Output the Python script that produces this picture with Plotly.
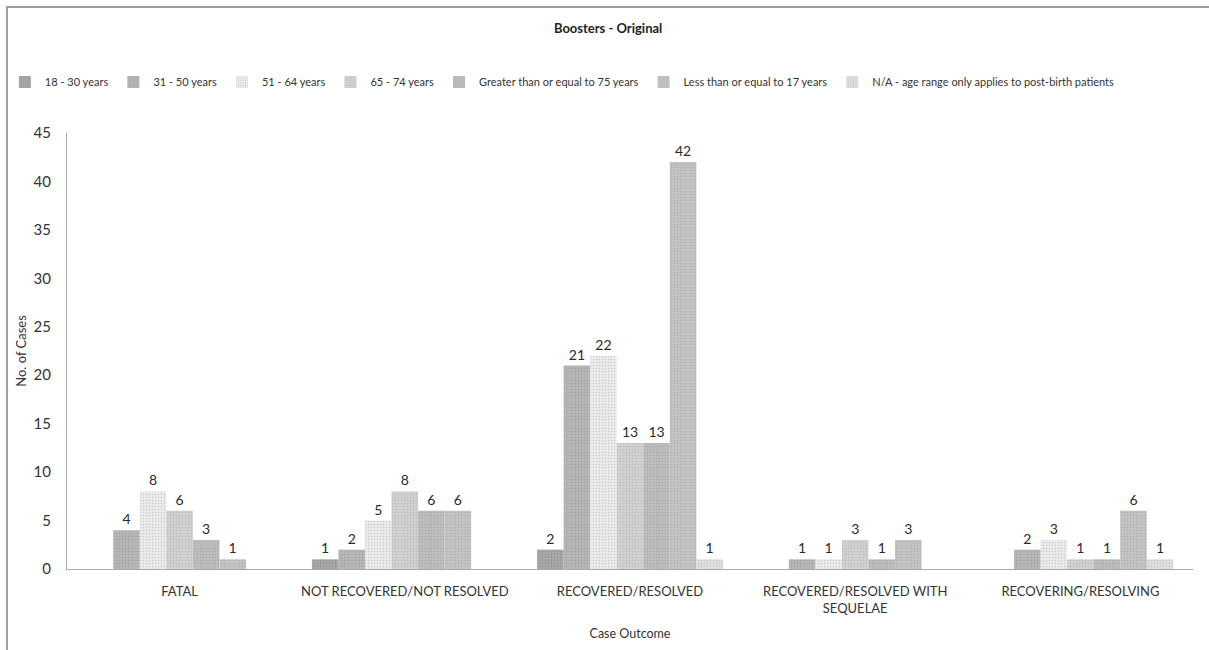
import plotly.graph_objects as go

# Case outcomes on the category axis
outcomes = [
    "FATAL",
    "NOT RECOVERED/NOT RESOLVED",
    "RECOVERED/RESOLVED",
    "RECOVERED/RESOLVED WITH<br>SEQUELAE",
    "RECOVERING/RESOLVING",
]

# Age-group series (None = no cases reported)
age_18_30 = [None, 1, 2, None, None]
age_31_50 = [4, 2, 21, 1, 2]
age_51_64 = [8, 5, 22, 1, 3]
age_65_74 = [6, 8, 13, 3, 1]
age_ge_75 = [3, 6, 13, 1, 1]
age_le_17 = [1, 6, 42, 3, 6]
age_na = [None, None, 1, None, 1]

series_names = [
    "18 - 30 years",
    "31 - 50 years",
    "51 - 64 years",
    "65 - 74 years",
    "Greater than or equal to 75 years",
    "Less than or equal to 17 years",
    "N/A - age range only applies to post-birth patients",
]
series_values = [age_18_30, age_31_50, age_51_64, age_65_74, age_ge_75, age_le_17, age_na]

# Grey dotted fills: (background, dot colour, dot solidity)
fills = [
    ("#acacac", "#868686", 0.45),
    ("#b8b8b8", "#959595", 0.4),
    ("#eeeeee", "#b4b4b4", 0.35),
    ("#d4d4d4", "#acacac", 0.4),
    ("#c0c0c0", "#9c9c9c", 0.4),
    ("#c6c6c6", "#a2a2a2", 0.4),
    ("#e0e0e0", "#b8b8b8", 0.35),
]

FONT = "Lato, 'Open Sans', sans-serif"

fig = go.Figure()
for name, vals, (bg, fg, sol) in zip(series_names, series_values, fills):
    fig.add_trace(
        go.Bar(
            name=name,
            x=outcomes,
            y=vals,
            text=[("" if v is None else str(v)) for v in vals],
            textposition="outside",
            cliponaxis=False,
            textfont=dict(family=FONT, size=14, color="#2a2a2a"),
            marker=dict(
                color=bg,
                line=dict(width=0),
                pattern=dict(shape=".", fgcolor=fg, bgcolor=bg, size=3, solidity=sol),
            ),
        )
    )

fig.update_layout(
    width=1209,
    height=650,
    barmode="group",
    bargap=0.175,
    bargroupgap=0,
    paper_bgcolor="white",
    plot_bgcolor="white",
    margin=dict(l=67, r=16, t=133, b=81, autoexpand=False),
    font=dict(family=FONT, size=12, color="#333333"),
    title=dict(
        text="<b>Boosters - Original</b>",
        x=0.503,
        xanchor="center",
        y=0.957,
        yanchor="middle",
        font=dict(family=FONT, size=13, color="#222222"),
    ),
    legend=dict(
        orientation="h",
        xref="container",
        yref="container",
        x=0.004,
        y=0.874,
        yanchor="middle",
        xanchor="left",
        bgcolor="rgba(0,0,0,0)",
        font=dict(family=FONT, size=11, color="#333333"),
        itemwidth=30,
        traceorder="normal",
    ),
    showlegend=True,
)

fig.update_xaxes(
    showline=True,
    linecolor="#a8a8a8",
    linewidth=1,
    ticks="",
    showgrid=False,
    tickangle=0,
    ticklabelstandoff=10,
    tickfont=dict(family=FONT, size=13, color="#333333"),
    title=dict(text="Case Outcome", font=dict(family=FONT, size=12.5, color="#333333"), standoff=14),
)
fig.update_yaxes(
    range=[0, 45],
    dtick=5,
    showline=True,
    linecolor="#a8a8a8",
    linewidth=1,
    ticks="",
    showgrid=False,
    zeroline=False,
    tickfont=dict(family=FONT, size=15, color="#333333"),
    ticklabelstandoff=12,
    title=dict(text="No. of Cases", font=dict(family=FONT, size=13, color="#333333"), standoff=4),
)

# Outer chart frame
fig.add_shape(
    type="rect",
    xref="paper",
    yref="paper",
    x0=-0.0533,
    x1=1.2,
    y0=-0.5,
    y1=1.289,
    line=dict(color="#9e9e9e", width=2),
    fillcolor="rgba(0,0,0,0)",
    layer="below",
)

fig.write_html("out.html")
